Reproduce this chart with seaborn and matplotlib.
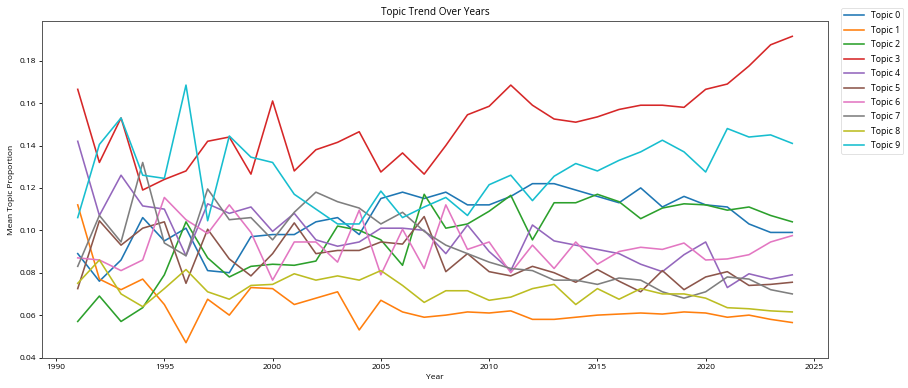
import matplotlib
matplotlib.use("Agg")
import matplotlib.pyplot as plt
import seaborn as sns
import pandas as pd

years = list(range(1991, 2025))

topic_0 = [0.089, 0.076, 0.086, 0.106, 0.095, 0.101, 0.081, 0.080, 0.097, 0.098, 0.098, 0.104, 0.106, 0.098, 0.115, 0.118, 0.115, 0.118, 0.112, 0.112, 0.116, 0.122, 0.122, 0.119, 0.116, 0.113, 0.120, 0.111, 0.116, 0.112, 0.111, 0.103, 0.099, 0.099]
topic_1 = [0.112, 0.077, 0.072, 0.077, 0.065, 0.047, 0.0675, 0.060, 0.073, 0.0725, 0.065, 0.068, 0.071, 0.053, 0.067, 0.0615, 0.059, 0.060, 0.0615, 0.061, 0.062, 0.058, 0.058, 0.059, 0.060, 0.0605, 0.061, 0.0605, 0.0615, 0.061, 0.059, 0.060, 0.058, 0.0565]
topic_2 = [0.057, 0.069, 0.057, 0.0635, 0.079, 0.104, 0.087, 0.078, 0.083, 0.084, 0.0835, 0.0855, 0.102, 0.100, 0.0955, 0.0835, 0.117, 0.101, 0.103, 0.109, 0.1165, 0.0955, 0.113, 0.113, 0.117, 0.1135, 0.1055, 0.1105, 0.1125, 0.112, 0.1095, 0.111, 0.107, 0.104]
topic_3 = [0.1665, 0.132, 0.153, 0.119, 0.124, 0.128, 0.142, 0.144, 0.1265, 0.161, 0.128, 0.138, 0.1415, 0.1465, 0.1275, 0.1365, 0.1265, 0.140, 0.1545, 0.1585, 0.1685, 0.159, 0.1525, 0.151, 0.1535, 0.157, 0.159, 0.159, 0.158, 0.1665, 0.169, 0.1775, 0.1875, 0.1915]
topic_4 = [0.142, 0.107, 0.126, 0.1115, 0.110, 0.088, 0.1125, 0.108, 0.111, 0.0995, 0.108, 0.0955, 0.0925, 0.0945, 0.101, 0.101, 0.100, 0.089, 0.1025, 0.090, 0.081, 0.1025, 0.095, 0.093, 0.091, 0.089, 0.084, 0.0805, 0.0885, 0.0945, 0.073, 0.0795, 0.077, 0.079]
topic_5 = [0.0725, 0.1045, 0.093, 0.101, 0.104, 0.075, 0.1005, 0.0865, 0.0785, 0.089, 0.1035, 0.089, 0.0905, 0.0905, 0.0945, 0.0935, 0.1065, 0.0805, 0.089, 0.0805, 0.0785, 0.083, 0.080, 0.0755, 0.0815, 0.076, 0.071, 0.081, 0.072, 0.078, 0.0805, 0.074, 0.0745, 0.0755]
topic_6 = [0.087, 0.086, 0.081, 0.086, 0.1155, 0.105, 0.0985, 0.112, 0.099, 0.0765, 0.0945, 0.0945, 0.085, 0.1095, 0.079, 0.1005, 0.082, 0.112, 0.091, 0.0945, 0.080, 0.093, 0.082, 0.0945, 0.084, 0.090, 0.092, 0.091, 0.094, 0.086, 0.0865, 0.0885, 0.0945, 0.0975]
topic_7 = [0.083, 0.107, 0.0945, 0.132, 0.094, 0.088, 0.1195, 0.105, 0.106, 0.0955, 0.1085, 0.118, 0.1135, 0.1105, 0.103, 0.1085, 0.0995, 0.093, 0.089, 0.085, 0.082, 0.081, 0.0765, 0.0765, 0.0745, 0.0775, 0.0765, 0.071, 0.068, 0.071, 0.078, 0.077, 0.072, 0.070]
topic_8 = [0.075, 0.086, 0.070, 0.064, 0.0725, 0.0815, 0.071, 0.0675, 0.074, 0.0745, 0.0795, 0.0765, 0.0785, 0.0765, 0.081, 0.074, 0.066, 0.0715, 0.0715, 0.067, 0.0685, 0.0725, 0.0745, 0.065, 0.0725, 0.0675, 0.0725, 0.070, 0.070, 0.068, 0.0635, 0.063, 0.062, 0.0615]
topic_9 = [0.106, 0.1405, 0.153, 0.126, 0.1245, 0.1685, 0.1045, 0.1445, 0.1345, 0.132, 0.117, 0.110, 0.103, 0.103, 0.1185, 0.106, 0.111, 0.1155, 0.107, 0.1215, 0.126, 0.114, 0.1255, 0.1315, 0.128, 0.133, 0.137, 0.1425, 0.137, 0.1275, 0.148, 0.144, 0.145, 0.141]

topic_names = ["Topic 0", "Topic 1", "Topic 2", "Topic 3", "Topic 4",
               "Topic 5", "Topic 6", "Topic 7", "Topic 8", "Topic 9"]
series = [topic_0, topic_1, topic_2, topic_3, topic_4,
          topic_5, topic_6, topic_7, topic_8, topic_9]

rows = []
for name, vals in zip(topic_names, series):
    for y, v in zip(years, vals):
        rows.append({"Year": y, "Topic": name, "Mean Topic Proportion": v})
df = pd.DataFrame(rows)

plt.rcParams['font.family'] = ['Open Sans', 'DejaVu Sans']
plt.rcParams['font.size'] = 6

fig = plt.figure(figsize=(9.08, 3.88), dpi=100)
ax = fig.add_axes([42/908, 1 - 358/388, (828 - 42)/908, (358 - 21)/388])

sns.lineplot(data=df, x="Year", y="Mean Topic Proportion", hue="Topic",
             hue_order=topic_names, palette="tab10", linewidth=1.15, ax=ax)

ax.set_title("Topic Trend Over Years", fontsize=7.2, pad=4)
ax.set_xlabel("Year", fontsize=6, labelpad=2)
ax.set_ylabel("Mean Topic Proportion", fontsize=6, labelpad=3)
ax.tick_params(labelsize=6, length=2.5, width=0.6, pad=2)
for s in ax.spines.values():
    s.set_linewidth(0.7)
    s.set_color('#555555')

leg = ax.legend(loc="upper left", bbox_to_anchor=(1.0165, 1.0386),
                borderaxespad=0, fontsize=6.3, handlelength=2.2,
                labelspacing=0.62, frameon=True)
leg.get_frame().set_linewidth(0.5)

fig.savefig("out.png", dpi=100)
